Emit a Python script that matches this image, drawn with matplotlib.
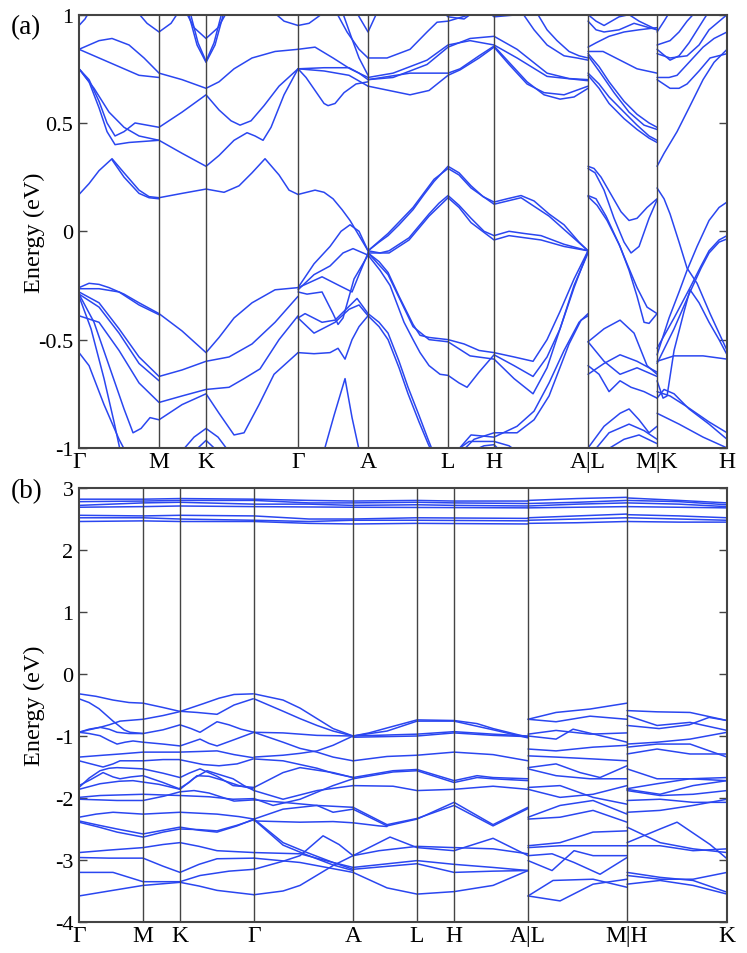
import matplotlib
matplotlib.use("Agg")
import matplotlib.pyplot as plt

plt.rcParams['font.family'] = ['Liberation Serif', 'DejaVu Serif']

# high-symmetry points along the k-path
ticks_a = [0, 0.80, 1.27, 2.19, 2.89, 3.69, 4.15, 5.09, 5.78, 6.48]
labels_a = ['Γ', 'M', 'K', 'Γ', 'A', 'L', 'H', 'A|L', 'M|K', 'H']
ticks_b = [0, 0.64, 1.01, 1.75, 2.74, 3.38, 3.75, 4.49, 5.48, 6.48]
labels_b = ['Γ', 'M', 'K', 'Γ', 'A', 'L', 'H', 'A|L', 'M|H', 'K']

yticks_a = [-1, -0.5, 0, 0.5, 1]
ylabels_a = ['-1', '-0.5', '0', '0.5', '1']
yticks_b = [-4, -3, -2, -1, 0, 1, 2, 3]
ylabels_b = ['-4', '-3', '-2', '-1', '0', '1', '2', '3']

# bands of panel (a): (k, E) samples
bands_a = [
    # G-M-K-G, upper
    [(0, 0.84), (0.20, 0.88), (0.33, 0.89), (0.50, 0.86), (0.65, 0.80), (0.80, 0.73), (1.03, 0.70), (1.27, 0.66), (1.40, 0.69), (1.55, 0.75), (1.73, 0.80), (1.96, 0.83), (2.19, 0.84)],
    [(0, 0.84), (0.20, 0.80), (0.40, 0.76), (0.60, 0.72), (0.80, 0.71)],
    [(0, 0.75), (0.10, 0.70), (0.20, 0.60), (0.28, 0.50), (0.36, 0.44), (0.45, 0.46), (0.56, 0.50), (0.68, 0.49), (0.80, 0.48), (1.03, 0.55), (1.27, 0.63), (1.40, 0.56), (1.52, 0.51), (1.61, 0.49), (1.72, 0.51), (1.85, 0.58), (2.00, 0.67), (2.19, 0.75)],
    [(0, 0.75), (0.10, 0.69), (0.20, 0.57), (0.28, 0.46), (0.36, 0.40), (0.50, 0.41), (0.65, 0.415), (0.80, 0.42), (1.03, 0.36), (1.27, 0.30), (1.40, 0.35), (1.55, 0.42), (1.68, 0.455), (1.76, 0.44), (1.84, 0.42), (1.92, 0.48), (2.05, 0.63), (2.19, 0.75)],
    [(0, 0.75), (0.15, 0.66), (0.30, 0.55), (0.45, 0.48), (0.60, 0.44), (0.80, 0.42)],
    [(0, 0.95), (0.06, 0.98), (0.12, 1.03)],
    [(0.55, 1.03), (0.68, 0.96), (0.80, 0.92), (0.92, 0.96), (1.02, 1.03)],
    [(1.05, 1.03), (1.15, 0.94), (1.27, 0.89), (1.39, 0.94), (1.50, 1.03)],
    [(1.08, 1.03), (1.18, 0.86), (1.27, 0.78), (1.36, 0.86), (1.46, 1.03)],
    [(1.10, 1.03), (1.19, 0.87), (1.27, 0.785), (1.35, 0.87), (1.44, 1.03)],
    [(1.90, 1.03), (2.05, 0.97), (2.19, 0.95)],
    [(0, 0.17), (0.10, 0.22), (0.20, 0.28), (0.33, 0.335), (0.45, 0.27), (0.60, 0.19), (0.70, 0.16), (0.80, 0.155), (1.03, 0.175), (1.27, 0.195), (1.45, 0.18), (1.60, 0.21), (1.73, 0.27), (1.86, 0.335), (2.00, 0.26), (2.10, 0.19), (2.19, 0.17)],
    [(0.33, 0.33), (0.45, 0.25), (0.60, 0.175), (0.70, 0.155), (0.80, 0.15)],
    # G-M-K-G, lower
    [(0, -0.26), (0.10, -0.24), (0.20, -0.245), (0.30, -0.26), (0.45, -0.29), (0.60, -0.33), (0.80, -0.38), (1.03, -0.46), (1.27, -0.56), (1.40, -0.49), (1.55, -0.40), (1.73, -0.33), (1.96, -0.27), (2.19, -0.26)],
    [(0, -0.265), (0.20, -0.265), (0.40, -0.28), (0.60, -0.34), (0.80, -0.385)],
    [(0, -0.28), (0.20, -0.33), (0.40, -0.45), (0.60, -0.58), (0.80, -0.67), (1.03, -0.64), (1.27, -0.60), (1.50, -0.58), (1.73, -0.52), (1.96, -0.42), (2.19, -0.30)],
    [(0, -0.29), (0.20, -0.35), (0.40, -0.47), (0.60, -0.61), (0.80, -0.69)],
    [(0, -0.39), (0.20, -0.42), (0.40, -0.55), (0.60, -0.70), (0.80, -0.79), (1.03, -0.76), (1.27, -0.73), (1.50, -0.72), (1.65, -0.68), (1.81, -0.635), (2.00, -0.50), (2.19, -0.39)],
    [(0, -0.29), (0.15, -0.42), (0.30, -0.62), (0.45, -0.82), (0.54, -0.93), (0.62, -0.91), (0.71, -0.86), (0.80, -0.87), (1.03, -0.80), (1.27, -0.75), (1.40, -0.84), (1.55, -0.94), (1.65, -0.93), (1.80, -0.80), (1.95, -0.66), (2.19, -0.56)],
    [(0, -0.56), (0.10, -0.62), (0.25, -0.80), (0.40, -0.96), (0.48, -1.03)],
    [(0, -0.30), (0.12, -0.45), (0.25, -0.68), (0.35, -0.88), (0.42, -1.03)],
    [(1.00, -1.03), (1.15, -0.95), (1.27, -0.91), (1.39, -0.95), (1.52, -1.03)],
    [(1.12, -1.03), (1.27, -0.965), (1.42, -1.03)],
    [(0.62, -1.03), (0.80, -1.0), (0.98, -1.03)],
    # G-A
    [(2.19, 0.84), (2.36, 0.85), (2.54, 0.80), (2.71, 0.75), (2.89, 0.71)],
    [(2.19, 0.75), (2.27, 0.71), (2.36, 0.65), (2.45, 0.59), (2.49, 0.58), (2.56, 0.59), (2.65, 0.64), (2.77, 0.68), (2.89, 0.69)],
    [(2.19, 0.75), (2.45, 0.755), (2.70, 0.755), (2.80, 0.73), (2.89, 0.70)],
    [(2.19, 0.75), (2.45, 0.74), (2.70, 0.72), (2.89, 0.67)],
    [(2.19, 0.95), (2.30, 0.96), (2.42, 1.0), (2.48, 1.03)],
    [(2.55, 1.03), (2.68, 0.92), (2.80, 0.84), (2.89, 0.80)],
    [(2.62, 1.03), (2.72, 0.90), (2.80, 0.80), (2.89, 0.72)],
    [(2.75, 1.03), (2.89, 0.92), (3.00, 1.03)],
    [(2.19, 0.17), (2.36, 0.19), (2.45, 0.18), (2.54, 0.15), (2.63, 0.10), (2.71, 0.05), (2.80, -0.02), (2.89, -0.09)],
    [(2.19, -0.26), (2.35, -0.15), (2.51, -0.07), (2.62, 0.0), (2.71, 0.03), (2.80, 0.0), (2.89, -0.09)],
    [(2.19, -0.27), (2.35, -0.20), (2.51, -0.16), (2.64, -0.10), (2.74, -0.08), (2.89, -0.11)],
    [(2.19, -0.26), (2.24, -0.25), (2.43, -0.21), (2.60, -0.25), (2.73, -0.28), (2.80, -0.20), (2.89, -0.10)],
    [(2.19, -0.28), (2.28, -0.29), (2.43, -0.28), (2.54, -0.38), (2.59, -0.43), (2.64, -0.40), (2.75, -0.22), (2.89, -0.11)],
    [(2.19, -0.40), (2.26, -0.38), (2.43, -0.42), (2.56, -0.41), (2.78, -0.31), (2.89, -0.38)],
    [(2.19, -0.40), (2.35, -0.47), (2.56, -0.42), (2.70, -0.36), (2.80, -0.34), (2.89, -0.39)],
    [(2.19, -0.56), (2.35, -0.565), (2.51, -0.56), (2.59, -0.54), (2.66, -0.59), (2.73, -0.50), (2.80, -0.44), (2.89, -0.39)],
    [(2.44, -1.03), (2.55, -0.85), (2.66, -0.68), (2.73, -0.86), (2.81, -1.03)],
    # A-L-H-A
    [(2.89, 0.80), (3.08, 0.80), (3.31, 0.84), (3.48, 0.92), (3.58, 0.965), (3.69, 0.97), (3.91, 1.0), (4.00, 1.03)],
    [(2.89, 0.70), (3.14, 0.71), (3.48, 0.77), (3.69, 0.85), (3.91, 0.89), (4.15, 0.90), (4.38, 0.84), (4.68, 0.73), (4.90, 0.705), (5.09, 0.70)],
    [(2.89, 0.71), (3.14, 0.73), (3.48, 0.79), (3.69, 0.86), (3.91, 0.88), (4.15, 0.86), (4.38, 0.80), (4.68, 0.715), (5.09, 0.695)],
    [(2.89, 0.70), (3.31, 0.73), (3.69, 0.73), (3.81, 0.75), (4.00, 0.81), (4.15, 0.855), (4.30, 0.78), (4.48, 0.69), (4.65, 0.63), (4.81, 0.61), (4.95, 0.62), (5.09, 0.66)],
    [(2.89, 0.67), (3.10, 0.65), (3.31, 0.63), (3.50, 0.65), (3.69, 0.72), (3.81, 0.745), (4.00, 0.80), (4.15, 0.85), (4.30, 0.77), (4.48, 0.68), (4.65, 0.64), (4.85, 0.63), (5.09, 0.67)],
    [(3.60, 1.03), (3.69, 0.99), (3.85, 0.98), (4.00, 1.03)],
    [(4.05, 1.03), (4.15, 0.99), (4.40, 1.0), (4.50, 1.03)],
    [(4.40, 1.03), (4.55, 0.93), (4.68, 0.86), (4.85, 0.81), (4.98, 0.80), (5.09, 0.79)],
    [(4.55, 1.03), (4.68, 0.93), (4.78, 0.88), (4.90, 0.83), (5.00, 0.81), (5.09, 0.80)],
    [(2.89, -0.09), (3.00, -0.05), (3.09, -0.02), (3.20, 0.03), (3.34, 0.10), (3.45, 0.17), (3.55, 0.23), (3.69, 0.30), (3.80, 0.27), (3.92, 0.21), (4.04, 0.16), (4.15, 0.135), (4.28, 0.15), (4.42, 0.165), (4.55, 0.14), (4.70, 0.08), (4.85, 0.03), (5.00, -0.05), (5.09, -0.09)],
    [(2.89, -0.09), (3.09, -0.01), (3.34, 0.11), (3.55, 0.24), (3.69, 0.29), (3.80, 0.26), (3.92, 0.20), (4.15, 0.125), (4.42, 0.155), (4.70, 0.07), (5.09, -0.09)],
    [(2.89, -0.09), (3.01, -0.10), (3.10, -0.09), (3.30, -0.03), (3.50, 0.08), (3.60, 0.13), (3.69, 0.165), (3.80, 0.12), (3.92, 0.06), (4.05, 0.0), (4.15, -0.02), (4.30, 0.0), (4.45, -0.01), (4.62, -0.02), (4.85, -0.06), (5.09, -0.09)],
    [(2.89, -0.10), (3.10, -0.10), (3.30, -0.04), (3.50, 0.07), (3.69, 0.155), (3.80, 0.11), (3.92, 0.04), (4.15, -0.04), (4.30, -0.02), (4.62, -0.04), (4.85, -0.07), (5.09, -0.09)],
    [(2.89, -0.10), (3.00, -0.14), (3.09, -0.19), (3.20, -0.30), (3.34, -0.43), (3.41, -0.48), (3.50, -0.49), (3.69, -0.50), (3.85, -0.52), (4.00, -0.55), (4.15, -0.56), (4.35, -0.58), (4.54, -0.60), (4.68, -0.50), (4.81, -0.37), (4.95, -0.22), (5.09, -0.09)],
    [(2.89, -0.11), (3.01, -0.18), (3.11, -0.25), (3.25, -0.42), (3.34, -0.50), (3.41, -0.56), (3.50, -0.62), (3.61, -0.66), (3.69, -0.665), (3.80, -0.70), (3.88, -0.72), (4.00, -0.65), (4.15, -0.57), (4.35, -0.62), (4.54, -0.67), (4.68, -0.58), (4.81, -0.45), (4.95, -0.26), (5.09, -0.09)],
    [(2.89, -0.10), (3.09, -0.20), (3.34, -0.44), (3.50, -0.50), (3.69, -0.51), (3.91, -0.575), (4.15, -0.59), (4.35, -0.68), (4.54, -0.75), (4.68, -0.63), (4.81, -0.45), (4.95, -0.25), (5.09, -0.10)],
    [(2.89, -0.38), (3.00, -0.42), (3.09, -0.47), (3.20, -0.60), (3.29, -0.72), (3.40, -0.85), (3.49, -0.96), (3.55, -1.03)],
    [(2.89, -0.39), (3.00, -0.44), (3.09, -0.50), (3.20, -0.63), (3.29, -0.75), (3.40, -0.88), (3.49, -0.98), (3.54, -1.03)],
    [(3.75, -1.03), (3.92, -0.94), (4.15, -0.95), (4.38, -0.90), (4.55, -0.83), (4.70, -0.70), (4.85, -0.55), (5.00, -0.42), (5.09, -0.38)],
    [(3.80, -1.03), (3.95, -0.96), (4.15, -0.93), (4.38, -0.93), (4.55, -0.87), (4.70, -0.76), (4.90, -0.52), (5.02, -0.41), (5.09, -0.39)],
    [(3.72, -1.03), (3.90, -0.97), (4.15, -0.97), (4.30, -0.99), (4.42, -1.03)],
    [(3.85, -1.03), (4.05, -0.99), (4.15, -0.985), (4.25, -1.03)],
    # L-M
    [(5.09, 0.97), (5.17, 0.93), (5.25, 0.92), (5.40, 0.93), (5.55, 0.96), (5.70, 0.94), (5.78, 0.93)],
    [(5.09, 1.0), (5.17, 0.97), (5.25, 0.95), (5.40, 0.99), (5.50, 1.0), (5.60, 0.97), (5.78, 0.93)],
    [(5.09, 0.85), (5.17, 0.87), (5.30, 0.90), (5.45, 0.92), (5.60, 0.93), (5.78, 0.94)],
    [(5.09, 0.83), (5.24, 0.83), (5.41, 0.79), (5.58, 0.75), (5.78, 0.73)],
    [(5.09, 0.82), (5.20, 0.76), (5.30, 0.69), (5.45, 0.60), (5.58, 0.54), (5.70, 0.50), (5.78, 0.48)],
    [(5.09, 0.73), (5.20, 0.68), (5.30, 0.62), (5.45, 0.55), (5.58, 0.49), (5.70, 0.44), (5.78, 0.42)],
    [(5.09, 0.72), (5.20, 0.66), (5.30, 0.59), (5.45, 0.52), (5.58, 0.47), (5.70, 0.43), (5.78, 0.41)],
    [(5.09, 0.81), (5.20, 0.74), (5.35, 0.64), (5.50, 0.55), (5.65, 0.49), (5.78, 0.47)],
    [(5.09, 0.30), (5.15, 0.29), (5.22, 0.25), (5.32, 0.17), (5.42, 0.09), (5.50, 0.05), (5.58, 0.06), (5.68, 0.11), (5.78, 0.15)],
    [(5.09, 0.29), (5.16, 0.27), (5.25, 0.19), (5.35, 0.06), (5.45, -0.05), (5.52, -0.10), (5.60, -0.07), (5.70, 0.06), (5.78, 0.145)],
    [(5.09, 0.165), (5.17, 0.15), (5.27, 0.07), (5.41, -0.07), (5.50, -0.18), (5.58, -0.30), (5.65, -0.42), (5.70, -0.425), (5.78, -0.38)],
    [(5.09, 0.16), (5.18, 0.12), (5.28, 0.05), (5.40, -0.06), (5.48, -0.15), (5.58, -0.26), (5.68, -0.35), (5.78, -0.38)],
    [(5.09, -0.51), (5.25, -0.45), (5.41, -0.41), (5.55, -0.47), (5.68, -0.62), (5.78, -0.66)],
    [(5.09, -0.51), (5.25, -0.60), (5.41, -0.66), (5.58, -0.63), (5.78, -0.67)],
    [(5.09, -0.62), (5.20, -0.66), (5.30, -0.74), (5.41, -0.69), (5.52, -0.72), (5.65, -0.74), (5.78, -0.77)],
    [(5.09, -0.66), (5.25, -0.61), (5.41, -0.57), (5.58, -0.60), (5.78, -0.65)],
    [(5.09, -1.0), (5.25, -0.90), (5.41, -0.84), (5.50, -0.82), (5.60, -0.87), (5.70, -0.93), (5.78, -0.90)],
    [(5.12, -1.03), (5.30, -0.93), (5.50, -0.89), (5.65, -0.92), (5.78, -0.96)],
    [(5.20, -1.03), (5.45, -0.96), (5.60, -0.94), (5.78, -0.98)],
    # K-H
    [(5.78, 0.86), (5.91, 0.88), (6.00, 0.92), (6.08, 0.97), (6.20, 1.03)],
    [(5.78, 0.92), (5.85, 0.97), (5.93, 1.03)],
    [(5.78, 0.82), (5.91, 0.80), (6.08, 0.81), (6.20, 0.86), (6.30, 0.93), (6.48, 1.0)],
    [(5.78, 0.71), (5.90, 0.71), (5.98, 0.72), (6.10, 0.78), (6.24, 0.85), (6.35, 0.89), (6.48, 0.92)],
    [(5.78, 0.70), (5.91, 0.66), (6.00, 0.66), (6.08, 0.68), (6.20, 0.74), (6.31, 0.80), (6.48, 0.82)],
    [(5.78, 0.30), (5.85, 0.36), (5.98, 0.46), (6.10, 0.57), (6.24, 0.70), (6.35, 0.78), (6.48, 0.84)],
    [(5.78, 0.84), (5.91, 0.79), (6.00, 0.81), (6.10, 0.87), (6.25, 0.98), (6.32, 1.03)],
    [(5.78, 0.20), (5.85, 0.15), (5.91, 0.08), (6.00, -0.05), (6.08, -0.17), (6.18, -0.24), (6.31, -0.38), (6.40, -0.47), (6.48, -0.55)],
    [(5.78, -0.57), (5.90, -0.40), (6.00, -0.28), (6.08, -0.18), (6.18, -0.07), (6.30, 0.05), (6.40, 0.11), (6.48, 0.135)],
    [(5.78, -0.54), (5.95, -0.40), (6.11, -0.26), (6.22, -0.16), (6.30, -0.09), (6.40, -0.04), (6.48, -0.02)],
    [(5.78, -0.61), (5.95, -0.45), (6.11, -0.28), (6.22, -0.17), (6.30, -0.10), (6.40, -0.05), (6.48, -0.035)],
    [(5.78, -0.69), (5.84, -0.77), (5.88, -0.76), (5.95, -0.55), (6.05, -0.37), (6.11, -0.27), (6.20, -0.33), (6.30, -0.42), (6.40, -0.50), (6.48, -0.57)],
    [(5.78, -0.60), (5.95, -0.575), (6.24, -0.575), (6.48, -0.59)],
    [(5.78, -0.74), (5.91, -0.76), (6.08, -0.81), (6.30, -0.88), (6.48, -0.93)],
    [(5.78, -0.84), (6.00, -0.89), (6.24, -0.95), (6.48, -1.0)],
    [(5.78, -0.77), (5.85, -0.73), (5.95, -0.75), (6.10, -0.82), (6.30, -0.89), (6.48, -0.96)],
]

# bands of panel (b)
bands_b = [
    # upper group
    [(0, 2.82), (0.64, 2.82), (1.01, 2.83), (1.75, 2.82), (2.30, 2.80), (2.74, 2.79), (3.38, 2.80), (3.75, 2.79), (4.49, 2.79)],
    [(0, 2.78), (0.64, 2.79), (1.01, 2.80), (1.75, 2.80), (2.30, 2.76), (2.74, 2.76), (3.38, 2.77), (3.75, 2.76), (4.49, 2.75)],
    [(0, 2.72), (0.64, 2.76), (1.01, 2.77), (1.75, 2.74), (2.30, 2.74), (2.74, 2.72), (3.38, 2.73), (3.75, 2.72), (4.49, 2.71)],
    [(0, 2.69), (0.64, 2.70), (1.01, 2.71), (1.75, 2.70), (2.74, 2.69), (4.49, 2.68)],
    [(0, 2.56), (0.64, 2.55), (1.01, 2.56), (1.75, 2.55), (2.30, 2.50), (2.74, 2.50), (3.38, 2.52), (4.49, 2.51)],
    [(0, 2.52), (0.64, 2.52), (1.01, 2.50), (1.75, 2.48), (2.30, 2.46), (2.74, 2.48), (3.38, 2.48), (4.49, 2.47)],
    [(0, 2.46), (0.64, 2.47), (1.01, 2.46), (1.75, 2.46), (2.30, 2.43), (2.74, 2.42), (3.38, 2.43), (4.49, 2.42)],
    [(4.49, 2.80), (4.98, 2.83), (5.48, 2.85)], [(4.49, 2.75), (4.98, 2.77), (5.48, 2.80)],
    [(4.49, 2.71), (4.98, 2.74), (5.48, 2.76)], [(4.49, 2.68), (5.48, 2.70)],
    [(4.49, 2.52), (4.98, 2.55), (5.48, 2.58)], [(4.49, 2.48), (4.98, 2.50), (5.48, 2.52)],
    [(4.49, 2.43), (4.98, 2.44), (5.48, 2.46)],
    [(5.48, 2.84), (6.0, 2.80), (6.48, 2.76)], [(5.48, 2.80), (6.0, 2.78), (6.48, 2.73)],
    [(5.48, 2.76), (6.0, 2.74), (6.48, 2.70)], [(5.48, 2.70), (6.48, 2.68)],
    [(5.48, 2.57), (6.0, 2.55), (6.48, 2.52)], [(5.48, 2.52), (6.0, 2.50), (6.48, 2.48)],
    [(5.48, 2.46), (6.0, 2.45), (6.48, 2.45)],
    # G-M-K-G
    [(0, -0.32), (0.17, -0.36), (0.34, -0.42), (0.50, -0.46), (0.64, -0.47), (0.84, -0.54), (1.0, -0.60), (1.18, -0.62), (1.38, -0.65), (1.55, -0.50), (1.74, -0.40)],
    [(0, -0.40), (0.10, -0.46), (0.20, -0.56), (0.34, -0.76), (0.45, -0.90), (0.51, -0.94), (0.64, -0.96), (0.84, -0.90), (1.01, -0.82), (1.12, -0.88), (1.21, -0.94), (1.30, -0.85), (1.38, -0.77), (1.50, -0.82), (1.62, -0.89), (1.75, -0.94)],
    [(0, -0.94), (0.10, -0.89), (0.21, -0.86), (0.30, -0.89), (0.38, -0.94), (0.50, -0.96), (0.64, -0.96)],
    [(0, -0.94), (0.10, -0.90), (0.21, -0.86), (0.30, -0.82), (0.41, -0.76), (0.64, -0.73), (0.84, -0.67), (1.0, -0.61), (1.24, -0.48), (1.40, -0.39), (1.55, -0.33), (1.74, -0.32)],
    [(0, -0.94), (0.10, -0.96), (0.21, -0.995), (0.30, -1.07), (0.38, -1.13), (0.46, -1.10), (0.54, -1.08), (0.64, -1.10), (0.84, -1.13), (1.01, -1.16), (1.12, -1.10), (1.21, -1.05), (1.30, -1.12), (1.38, -1.16), (1.55, -1.06), (1.75, -0.94)],
    [(0, -1.34), (0.24, -1.31), (0.41, -1.29), (0.64, -1.26), (1.0, -1.26), (1.20, -1.25), (1.38, -1.24), (1.55, -1.30), (1.74, -1.35)],
    [(0, -1.40), (0.12, -1.45), (0.24, -1.50), (0.34, -1.45), (0.41, -1.40), (0.64, -1.40), (0.84, -1.38), (1.0, -1.38), (1.12, -1.42), (1.24, -1.46), (1.40, -1.48), (1.58, -1.45), (1.74, -1.37)],
    [(0, -1.83), (0.10, -1.68), (0.21, -1.56), (0.30, -1.52), (0.38, -1.51), (0.64, -1.53), (0.84, -1.60), (1.01, -1.67), (1.10, -1.60), (1.21, -1.53), (1.38, -1.65), (1.54, -1.80), (1.75, -1.83)],
    [(0, -1.86), (0.21, -1.77), (0.40, -1.73), (0.54, -1.72), (0.80, -1.78), (1.01, -1.86), (1.15, -1.68), (1.28, -1.56), (1.40, -1.62), (1.54, -1.69), (1.65, -1.80), (1.75, -1.88)],
    [(0, -1.80), (0.12, -1.70), (0.24, -1.59), (0.34, -1.66), (0.41, -1.69), (0.52, -1.66), (0.64, -1.64), (0.84, -1.75), (1.0, -1.85), (1.10, -1.75), (1.18, -1.64), (1.30, -1.65), (1.45, -1.72), (1.60, -1.80), (1.74, -1.85)],
    [(0, -1.99), (0.21, -1.96), (0.64, -1.94), (1.01, -1.96), (1.30, -1.98), (1.54, -2.02), (1.75, -2.01)],
    [(0, -2.02), (0.20, -2.03), (0.38, -2.04), (0.64, -2.04), (0.85, -1.97), (1.01, -1.90), (1.15, -1.88), (1.30, -1.92), (1.55, -2.05), (1.75, -2.03)],
    [(0, -2.31), (0.17, -2.26), (0.34, -2.23), (0.64, -2.26), (1.01, -2.23), (1.38, -2.26), (1.60, -2.30), (1.75, -2.34)],
    [(0, -2.37), (0.20, -2.44), (0.38, -2.50), (0.64, -2.58), (0.84, -2.52), (1.01, -2.47), (1.20, -2.52), (1.38, -2.55), (1.58, -2.45), (1.75, -2.34)],
    [(0, -2.39), (0.20, -2.47), (0.38, -2.55), (0.64, -2.63), (0.84, -2.55), (1.01, -2.50), (1.20, -2.51), (1.38, -2.53), (1.58, -2.44), (1.75, -2.35)],
    [(0, -2.88), (0.30, -2.84), (0.64, -2.80), (0.84, -2.75), (1.01, -2.72), (1.20, -2.78), (1.38, -2.85), (1.75, -2.88)],
    [(0, -2.96), (0.30, -2.97), (0.64, -2.97), (0.84, -3.10), (1.01, -3.20), (1.20, -3.07), (1.38, -2.98), (1.75, -2.97)],
    [(0, -3.20), (0.34, -3.20), (0.50, -3.28), (0.64, -3.35), (1.01, -3.35), (1.21, -3.25), (1.50, -3.18), (1.75, -3.15)],
    [(0, -3.58), (0.30, -3.50), (0.64, -3.41), (1.01, -3.36), (1.20, -3.42), (1.38, -3.49), (1.75, -3.56)],
    # G-A
    [(1.75, -0.32), (2.04, -0.42), (2.21, -0.55), (2.38, -0.72), (2.54, -0.88), (2.74, -1.0)],
    [(1.75, -0.40), (2.04, -0.60), (2.21, -0.72), (2.38, -0.83), (2.54, -0.92), (2.74, -1.0)],
    [(1.75, -0.94), (2.04, -0.95), (2.38, -0.99), (2.74, -1.0)],
    [(1.75, -0.94), (2.04, -1.10), (2.21, -1.20), (2.38, -1.26), (2.54, -1.34), (2.74, -1.40)],
    [(1.75, -1.34), (2.04, -1.31), (2.21, -1.28), (2.38, -1.24), (2.54, -1.15), (2.74, -1.0)],
    [(1.75, -1.37), (2.04, -1.40), (2.38, -1.52), (2.54, -1.60), (2.74, -1.67)],
    [(1.75, -1.83), (2.04, -1.59), (2.21, -1.51), (2.54, -1.59), (2.74, -1.67)],
    [(1.75, -1.88), (2.04, -2.02), (2.38, -1.88), (2.74, -1.80)],
    [(1.75, -2.01), (1.94, -2.12), (2.21, -2.02), (2.54, -1.80), (2.74, -1.69)],
    [(1.75, -2.03), (2.04, -2.07), (2.38, -2.12), (2.54, -2.23), (2.74, -2.18)],
    [(1.75, -2.34), (2.04, -2.18), (2.38, -2.12), (2.74, -2.15)],
    [(1.75, -2.34), (2.04, -2.72), (2.28, -2.88), (2.54, -3.04), (2.74, -3.15)],
    [(1.75, -2.35), (2.04, -2.76), (2.28, -2.92), (2.54, -3.08), (2.74, -3.17)],
    [(1.75, -2.37), (2.21, -2.39), (2.54, -2.38), (2.74, -2.40), (3.00, -2.45), (3.08, -2.46)],
    [(1.75, -2.88), (2.21, -2.90), (2.54, -3.04), (2.74, -3.12)],
    [(1.75, -2.97), (2.21, -3.04), (2.74, -3.20)],
    [(1.75, -3.15), (2.04, -3.02), (2.21, -2.93), (2.44, -2.61), (2.60, -2.75), (2.74, -2.93)],
    [(1.75, -3.56), (2.04, -3.50), (2.21, -3.41), (2.54, -3.09), (2.74, -2.93)],
    # A-L-H-A
    [(2.74, -1.0), (2.90, -0.95), (3.08, -0.87), (3.38, -0.74), (3.75, -0.75), (3.98, -0.80), (4.14, -0.88), (4.49, -1.02)],
    [(2.74, -1.0), (3.08, -0.92), (3.38, -0.76), (3.75, -0.76), (4.14, -0.90), (4.49, -1.03)],
    [(2.74, -1.0), (3.38, -0.97), (3.75, -0.93), (4.14, -0.97), (4.49, -1.0)],
    [(2.74, -1.02), (3.38, -1.00), (3.75, -0.95), (4.14, -0.99), (4.49, -1.01)],
    [(2.74, -1.40), (3.08, -1.33), (3.38, -1.31), (3.75, -1.26), (4.14, -1.30), (4.49, -1.40)],
    [(2.74, -1.67), (3.14, -1.56), (3.38, -1.54), (3.75, -1.72), (3.98, -1.64), (4.14, -1.67), (4.49, -1.69)],
    [(2.74, -1.69), (3.14, -1.58), (3.38, -1.56), (3.75, -1.75), (3.98, -1.67), (4.14, -1.69), (4.49, -1.72)],
    [(2.74, -1.80), (3.14, -1.81), (3.38, -1.88), (3.75, -1.86), (4.14, -1.81), (4.49, -1.86)],
    [(2.74, -2.18), (3.08, -2.45), (3.38, -2.34), (3.75, -2.07), (4.14, -2.43), (4.49, -2.15)],
    [(2.74, -2.15), (3.08, -2.43), (3.38, -2.33), (3.75, -2.12), (4.14, -2.45), (4.49, -2.17)],
    [(2.74, -2.93), (3.11, -2.63), (3.38, -2.80), (3.75, -2.85), (4.14, -2.65), (4.49, -2.93)],
    [(2.74, -2.93), (3.00, -2.85), (3.38, -2.78), (3.75, -2.80), (4.14, -2.82), (4.49, -2.90)],
    [(2.74, -3.12), (3.38, -3.01), (3.75, -3.07), (4.14, -3.12), (4.49, -3.17)],
    [(2.74, -3.15), (3.38, -3.06), (3.75, -3.20), (4.14, -3.18), (4.49, -3.17)],
    [(2.74, -3.20), (3.08, -3.45), (3.38, -3.55), (3.75, -3.51), (4.14, -3.41), (4.49, -3.17)],
    # L-M
    [(4.49, -0.73), (4.77, -0.62), (5.11, -0.565), (5.48, -0.47)],
    [(4.49, -0.73), (4.77, -0.77), (5.11, -0.68), (5.48, -0.73)],
    [(4.49, -0.97), (4.77, -0.91), (5.11, -0.97), (5.48, -0.95)],
    [(4.49, -1.0), (4.77, -1.05), (4.94, -0.89), (5.28, -1.02), (5.48, -1.10)],
    [(4.49, -1.21), (4.77, -1.24), (5.14, -1.18), (5.48, -1.15)],
    [(4.49, -1.32), (4.77, -1.34), (5.14, -1.37), (5.48, -1.40)],
    [(4.49, -1.51), (4.77, -1.45), (5.01, -1.59), (5.21, -1.67), (5.48, -1.48)],
    [(4.49, -1.53), (4.77, -1.64), (5.11, -1.69), (5.48, -1.69)],
    [(4.49, -1.86), (4.81, -1.99), (5.14, -1.94), (5.48, -1.80)],
    [(4.49, -1.83), (4.81, -1.80), (5.14, -1.99), (5.48, -2.10)],
    [(4.49, -2.31), (4.81, -2.12), (5.14, -2.04), (5.48, -2.26)],
    [(4.49, -2.34), (4.81, -2.31), (5.14, -2.20), (5.48, -2.39)],
    [(4.49, -2.77), (4.81, -2.72), (5.14, -2.55), (5.48, -2.53)],
    [(4.49, -2.80), (4.81, -2.77), (5.14, -2.77), (5.48, -2.77)],
    [(4.49, -3.01), (4.73, -3.17), (4.95, -2.85), (5.14, -2.93), (5.48, -2.93)],
    [(4.49, -2.93), (4.73, -2.90), (4.95, -3.04), (5.21, -3.23), (5.48, -2.96)],
    [(4.49, -3.58), (4.74, -3.33), (5.14, -3.31), (5.48, -3.44)],
    [(4.49, -3.58), (4.81, -3.66), (5.14, -3.39), (5.48, -3.31)],
    # H-K
    [(5.48, -0.59), (5.78, -0.61), (6.11, -0.62), (6.48, -0.75)],
    [(5.48, -0.67), (5.78, -0.83), (6.11, -0.78), (6.48, -0.91)],
    [(5.48, -0.83), (5.80, -0.88), (6.10, -0.82), (6.30, -0.70), (6.48, -0.75)],
    [(5.48, -1.13), (5.78, -1.10), (6.11, -1.05), (6.48, -0.94)],
    [(5.48, -1.18), (5.78, -1.13), (6.11, -1.13), (6.48, -1.34)],
    [(5.48, -1.29), (5.78, -1.21), (6.11, -1.29), (6.48, -1.29)],
    [(5.48, -1.53), (5.78, -1.69), (6.11, -1.69), (6.48, -1.72)],
    [(5.48, -1.85), (5.78, -1.77), (6.11, -1.69), (6.48, -1.67)],
    [(5.48, -1.86), (5.81, -1.94), (6.14, -1.80), (6.48, -1.72)],
    [(5.48, -1.88), (5.81, -1.96), (6.14, -1.94), (6.48, -1.88)],
    [(5.48, -2.04), (5.81, -2.02), (6.14, -2.07), (6.48, -2.07)],
    [(5.48, -2.23), (5.81, -2.20), (6.14, -2.12), (6.48, -2.02)],
    [(5.48, -2.47), (5.81, -2.72), (6.14, -2.82), (6.48, -2.88)],
    [(5.48, -2.72), (5.81, -2.50), (5.98, -2.39), (6.31, -2.75), (6.48, -2.98)],
    [(5.48, -2.77), (5.81, -2.77), (6.14, -2.85), (6.48, -2.82)],
    [(5.48, -3.20), (5.81, -3.28), (6.14, -3.33), (6.48, -3.52)],
    [(5.48, -3.25), (5.81, -3.31), (6.14, -3.31), (6.48, -3.20)],
    [(5.48, -3.39), (5.81, -3.33), (6.14, -3.41), (6.48, -3.55)],
]

BLUE = '#2a46f0'
GREY = '#444444'


def draw_panel(ax, bands, ticks, labels, ylim, yticks, yticklabels):
    for band in bands:
        k, e = zip(*band)
        ax.plot(k, e, color=BLUE, lw=1.1, solid_joinstyle='round', solid_capstyle='round')
    for t in ticks[1:-1]:
        ax.axvline(t, color=GREY, lw=1.0)
    ax.set_xlim(ticks[0], ticks[-1])
    ax.set_ylim(*ylim)
    ax.set_xticks(ticks)
    ax.set_xticklabels(labels, fontsize=17)
    ax.set_yticks(yticks)
    ax.set_yticklabels(yticklabels, fontsize=16)
    ax.tick_params(axis='x', length=0, pad=2)
    ax.tick_params(axis='y', direction='in', length=6, width=1.0, color=GREY,
                   left=True, right=True, pad=4)
    for s in ax.spines.values():
        s.set_linewidth(1.5)
        s.set_color(GREY)
    ax.set_ylabel('Energy (eV)', fontsize=17.5)
    ax.yaxis.set_label_coords(-0.052, 0.5)


fig = plt.figure(figsize=(7.47, 9.54), dpi=100)
ax_a = fig.add_axes([0.1058, 0.5294, 0.8675, 0.4542])
ax_b = fig.add_axes([0.1058, 0.0325, 0.8675, 0.4549])

draw_panel(ax_a, bands_a, ticks_a, labels_a, (-1, 1), yticks_a, ylabels_a)
draw_panel(ax_b, bands_b, ticks_b, labels_b, (-4, 3), yticks_b, ylabels_b)

fig.text(0.014, 0.9706, '(a)', fontsize=19.5, va='center', ha='left')
fig.text(0.014, 0.4848, '(b)', fontsize=19.5, va='center', ha='left')

fig.savefig('out.png', dpi=100)
